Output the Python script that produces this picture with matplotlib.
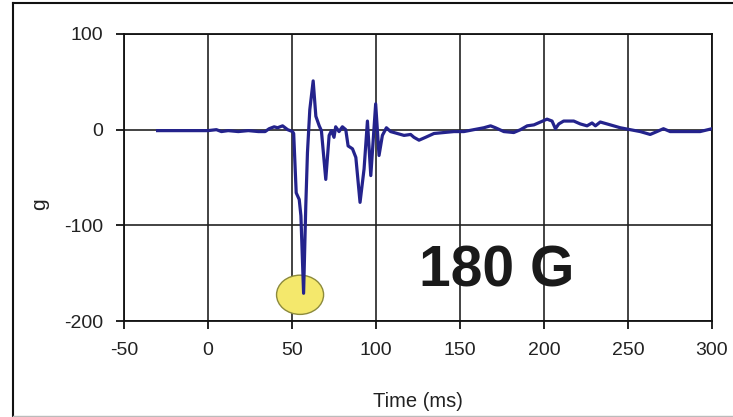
#!/usr/bin/env python3
# Acceleration trace of an impact test (g vs time)

import matplotlib
matplotlib.use("Agg")
import matplotlib.pyplot as plt
from matplotlib.patches import Ellipse
from matplotlib.lines import Line2D

plt.rcParams['font.family'] = ['Liberation Sans', 'DejaVu Sans']
plt.rcParams['axes.unicode_minus'] = False

# Trace: time (ms) and acceleration (g)
time_ms = [-30, -20, -10, 0, 5, 8, 12, 18, 24, 30, 34, 36.4, 39.4, 41.4, 44.4, 47.4,
           50.3, 51.0, 52.5, 54.3, 55.3, 56.9, 58.2, 59.2, 60.6, 62.6, 64.2, 66.2, 67.5,
           70.1, 72.1, 73.5, 75, 76, 78, 80, 82, 83.4, 86, 88, 90.5, 92.9, 94.9, 96.9,
           99.8, 101.8, 103.8, 106.2, 108.7, 112.7, 116.7, 120.6, 122.6, 125.6, 129.5,
           134.5, 140.4, 146.4, 152.3, 158.2, 164.2, 168.2, 171.1, 176.1, 182, 186, 190,
           194, 197.9, 201.8, 204.8, 206.8, 208.8, 211.7, 217.7, 221.6, 225.6, 228.6,
           230.6, 233.5, 239.5, 245.4, 251.3, 257.3, 263.2, 267.2, 271.1, 275.1, 283,
           292.9, 300]
accel_g = [-1, -1, -1, -1, 0, -2, -1, -2, -1, -2, -2, 1, 3, 2, 4, 0,
           -2, -4, -66, -73, -90, -171, -80, -24, 21, 51, 14, 4, -1,
           -52, -6, -1, -8, 3, -2, 3, 0, -17, -20, -29, -76, -41, 9, -48,
           27, -27, -6, 2, -2, -4, -6, -5, -8, -11, -8,
           -4, -3, -2, -2, 0, 2, 4, 2, -2, -3, 0, 4,
           5, 8, 11, 9, 1, 6, 9, 9, 6, 4, 7,
           4, 8, 5, 2, 0, -2, -5, -2, 1, -2, -2,
           -2, 1]

x_ticks = [-50, 0, 50, 100, 150, 200, 250, 300]
y_ticks = [-200, -100, 0, 100]

peak_time = 54.8
peak_g = -172.6
peak_label = "180 G"

fig = plt.figure(figsize=(7.33, 4.17), dpi=100)
ax = fig.add_axes([124 / 733, 1 - 321 / 417, 588 / 733, 287 / 417])

ax.plot(time_ms, accel_g, color='#24238c', linewidth=2.3, zorder=3)

# highlight around the peak
ax.add_patch(Ellipse((peak_time, peak_g), 28, 41, facecolor='#f4e86c',
                     edgecolor='#8c8a3c', linewidth=1.0, zorder=2))

ax.text(172, -148, peak_label, fontsize=41, fontweight='bold', color='#1a1a1a',
        ha='center', va='center', zorder=4)

ax.set_xlim(-50, 300)
ax.set_ylim(-200, 100)
ax.set_xticks(x_ticks)
ax.set_yticks(y_ticks)
ax.grid(True, color='#222222', linewidth=1.2)
ax.set_axisbelow(True)
for s in ax.spines.values():
    s.set_color('#111111')
    s.set_linewidth(1.3)
ax.tick_params(direction='out', length=6, width=1.3, color='#111111',
               labelsize=14, labelcolor='#222222', pad=9)

ax.set_xlabel('Time (ms)', fontsize=14.5, color='#222222', labelpad=24)
fig.text(40 / 733, 1 - 204 / 417, 'g', rotation=90, fontsize=15, color='#222222',
         ha='center', va='center')

# outer chart frame
fig.add_artist(Line2D([13 / 733, 13 / 733], [0, 1 - 3 / 417], color='#111111',
                      linewidth=1.5, transform=fig.transFigure))
fig.add_artist(Line2D([13 / 733, 1], [1 - 3 / 417, 1 - 3 / 417], color='#111111',
                      linewidth=1.5, transform=fig.transFigure))
fig.add_artist(Line2D([13 / 733, 1], [1 / 417, 1 / 417], color='#bbbbbb',
                      linewidth=1.0, transform=fig.transFigure))

fig.savefig('out.png', dpi=100)
